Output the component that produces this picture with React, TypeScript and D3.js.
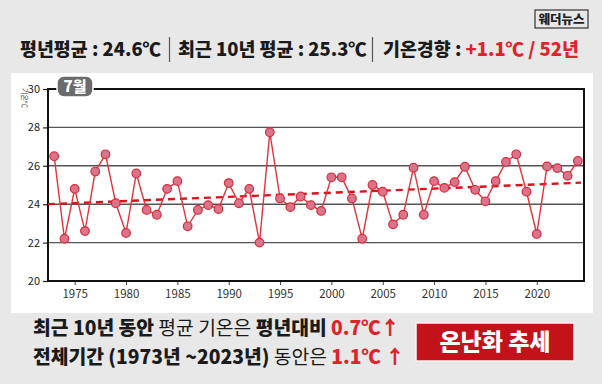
import { useEffect, useRef } from 'react';
import * as d3 from 'd3';

const years = d3.range(1973, 2025);
const temps = [
  26.5, 22.2, 24.8, 22.6, 25.7, 26.6, 24.05, 22.5, 25.6, 23.7, 23.45, 24.8,
  25.2, 22.85, 23.7, 23.95, 23.75, 25.1, 24.05, 24.8, 22.0, 27.75, 24.3, 23.85,
  24.4, 23.95, 23.65, 25.4, 25.4, 24.3, 22.2, 25.0, 24.65, 22.95, 23.45, 25.9,
  23.45, 25.2, 24.85, 25.15, 25.95, 24.75, 24.15, 25.2, 26.2, 26.6, 24.65, 22.45,
  25.97, 25.88, 25.48, 26.25,
];
const yTicks = [20, 22, 24, 26, 28, 30];
const xTicks = [1975, 1980, 1985, 1990, 1995, 2000, 2005, 2010, 2015, 2020];

const FONT = "'Noto Sans CJK KR', 'Noto Sans', sans-serif";
const RED = '#e2222a';

export default function App() {
  const gRef = useRef<SVGGElement>(null);

  useEffect(() => {
    if (!gRef.current) return;
    const g = d3.select(gRef.current);
    g.selectAll('*').remove();

    const x = d3.scaleLinear().domain([1972.4, 2024.6]).range([48, 584]);
    const y = d3.scaleLinear().domain([20, 30]).range([281, 89]);
    const pts = years.map((yr, i) => ({ yr, v: temps[i] }));

    // grid
    g.append('g')
      .selectAll('line')
      .data(yTicks.filter((t) => t > 20 && t < 30))
      .enter()
      .append('line')
      .attr('x1', 48)
      .attr('x2', 584)
      .attr('y1', (d) => y(d))
      .attr('y2', (d) => y(d))
      .attr('stroke', '#555')
      .attr('stroke-width', 1.4);

    // axes
    const yAxis = g.append('g').attr('transform', 'translate(48,0)')
      .call(d3.axisLeft(y).tickValues(yTicks).tickSize(5).tickPadding(3));
    yAxis.select('.domain').remove();
    yAxis.selectAll('line').attr('stroke', '#222').attr('stroke-width', 1.2);
    yAxis.selectAll('text').attr('font-size', 11).attr('font-family', FONT).attr('fill', '#222');

    const xAxis = g.append('g').attr('transform', 'translate(0,281)')
      .call(d3.axisBottom(x).tickValues(xTicks).tickFormat(d3.format('d')).tickSize(4).tickPadding(5));
    xAxis.select('.domain').remove();
    xAxis.selectAll('line').attr('stroke', '#444');
    xAxis.selectAll('text').attr('font-size', 11.5).attr('font-family', FONT).attr('fill', '#333');

    // frame
    g.append('rect')
      .attr('x', 48).attr('y', 89).attr('width', 536).attr('height', 192)
      .attr('fill', 'none').attr('stroke', '#111').attr('stroke-width', 2);

    // trend (least squares)
    const mx = d3.mean(years)!;
    const my = d3.mean(temps)!;
    const slope = d3.sum(pts, (p) => (p.yr - mx) * (p.v - my)) / d3.sum(pts, (p) => (p.yr - mx) ** 2);
    const [x0, x1] = x.domain();
    g.append('line')
      .attr('x1', x(x0)).attr('x2', x(x1) - 3)
      .attr('y1', y(my + slope * (x0 - mx)))
      .attr('y2', y(my + slope * (x1 - mx)))
      .attr('stroke', '#d8141c')
      .attr('stroke-width', 2.4)
      .attr('stroke-dasharray', '7,5');

    const line = d3.line<{ yr: number; v: number }>().x((d) => x(d.yr)).y((d) => y(d.v));
    g.append('path')
      .datum(pts)
      .attr('d', line)
      .attr('fill', 'none')
      .attr('stroke', '#e5323a')
      .attr('stroke-width', 1.4);

    g.selectAll('circle')
      .data(pts)
      .enter()
      .append('circle')
      .attr('cx', (d) => x(d.yr))
      .attr('cy', (d) => y(d.v))
      .attr('r', 4.3)
      .attr('fill', '#d9748a')
      .attr('stroke', '#d82c3a')
      .attr('stroke-width', 1.2);
  }, []);

  return (
    <div style={{ position: 'fixed', left: 0, top: 0 }}>
      <svg width={602} height={384} style={{ display: 'block', fontFamily: FONT }}>
        <rect width={602} height={384} fill="#e8e8e8" />
        <rect x={11} y={73} width={582} height={240} fill="#fff" />

        {/* logo */}
        <rect x={535} y={10} width={53} height={18} fill="none" stroke="#333" strokeWidth={1.2} />
        <text x={561.5} y={24} textAnchor="middle" fontSize={12.5} fontWeight={900} fill="#222">웨더뉴스</text>

        {/* header */}
        <g fontSize={18.4} fontWeight={900} fill="#1a1a1a">
          <text x={20} y={56}>평년평균 : 24.6℃</text>
          <line x1={169.5} x2={169.5} y1={37} y2={62} stroke="#555" strokeWidth={1.2} />
          <text x={178} y={56}>최근 10년 평균 : 25.3℃</text>
          <line x1={372.5} x2={372.5} y1={37} y2={62} stroke="#555" strokeWidth={1.2} />
          <text x={383} y={56}>기온경향 : <tspan fill={RED}>+1.1℃ / 52년</tspan></text>
        </g>

        <g ref={gRef} />

        <text x={22} y={88} fontSize={7} fill="#333" transform="rotate(90 22 88)">기온℃</text>

        {/* month badge */}
        <rect x={57} y={76} width={36} height={21} rx={7} fill="#6b6b6b" stroke="#fff" strokeWidth={1.5} />
        <text x={75} y={92} textAnchor="middle" fontSize={15} fontWeight={900} fill="#fff">7월</text>

        {/* footer */}
        <g fontSize={19.3} fill="#1a1a1a">
          <text x={33} y={335}>
            <tspan fontWeight={900}>최근 10년 동안</tspan>
            <tspan fontWeight={400}> 평균 기온은 </tspan>
            <tspan fontWeight={900}>평년대비 </tspan>
            <tspan fontWeight={900} fill={RED}>0.7℃↑</tspan>
          </text>
          <text x={33} y={364}>
            <tspan fontWeight={900}>전체기간 (1973년 ~2023년)</tspan>
            <tspan fontWeight={400}> 동안은 </tspan>
            <tspan fontWeight={900} fill={RED}>1.1℃ ↑</tspan>
          </text>
        </g>

        <rect x={416} y={323} width={158} height={38} fill="#c4121a" stroke="#f4f4f4" strokeWidth={1.5} />
        <text x={495} y={350} textAnchor="middle" fontSize={23} fontWeight={900} fill="#fff">온난화 추세</text>
      </svg>
    </div>
  );
}
